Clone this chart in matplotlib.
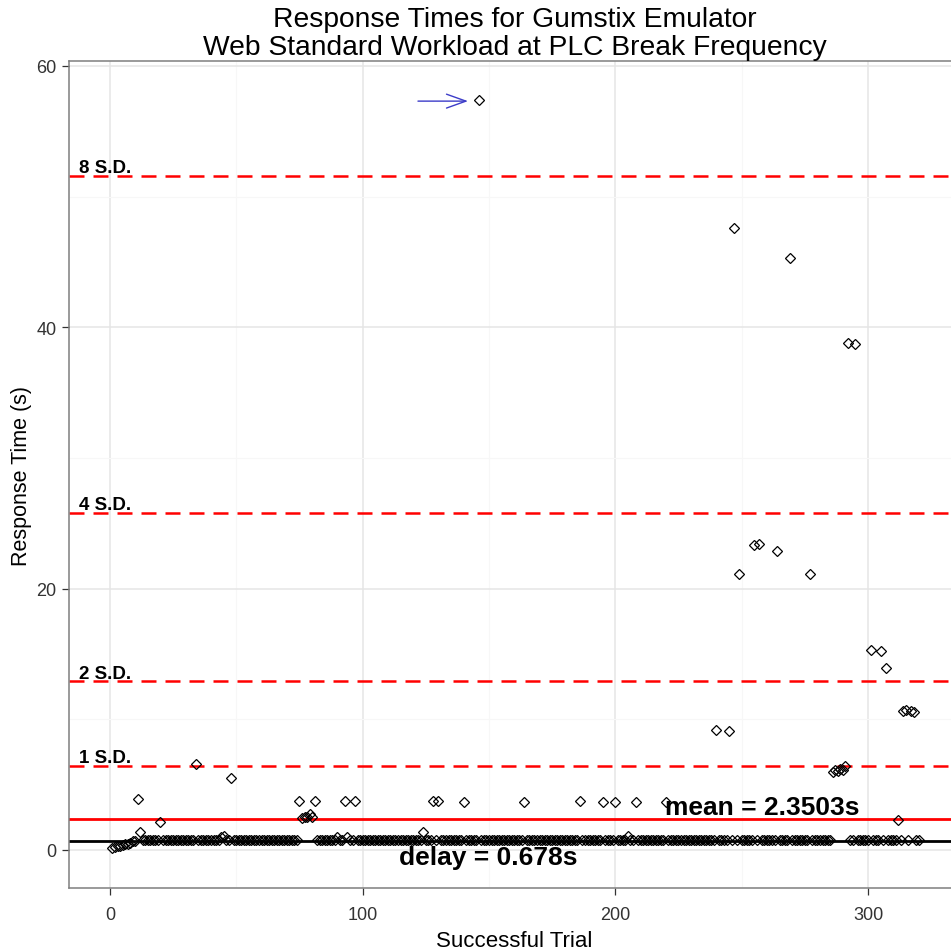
import matplotlib
matplotlib.use("Agg")
import matplotlib.pyplot as plt
from matplotlib.ticker import MultipleLocator

# ---------------- data ----------------
response_times = [
    # 1-20
    0.15, 0.20, 0.28, 0.33, 0.38, 0.42, 0.48, 0.55, 0.65, 0.72,
    3.90, 1.40, 0.78, 0.76, 0.77, 0.76, 0.78, 0.76, 0.77, 2.15,
    # 21-40
    0.76, 0.77, 0.76, 0.78, 0.76, 0.77, 0.76, 0.76, 0.78, 0.77,
    0.76, 0.77, 0.76, 6.60, 0.78, 0.76, 0.77, 0.76, 0.76, 0.78,
    # 41-60
    0.76, 0.77, 0.78, 1.00, 1.05, 0.77, 0.76, 5.50, 0.77, 0.76,
    0.78, 0.76, 0.77, 0.76, 0.76, 0.78, 0.77, 0.76, 0.77, 0.76,
    # 61-80
    0.78, 0.76, 0.77, 0.76, 0.76, 0.78, 0.77, 0.76, 0.77, 0.76,
    0.78, 0.76, 0.77, 0.76, 3.75, 2.45, 2.50, 2.55, 2.75, 2.50,
    # 81-100
    3.75, 0.77, 0.76, 0.78, 0.76, 0.77, 0.76, 0.76, 0.78, 1.00,
    0.77, 0.76, 3.75, 1.00, 0.76, 0.77, 3.75, 0.76, 0.78, 0.77,
    # 101-120
    0.76, 0.77, 0.78, 0.76, 0.77, 0.76, 0.76, 0.78, 0.77, 0.76,
    0.77, 0.76, 0.78, 0.76, 0.77, 0.76, 0.76, 0.78, 0.77, 0.76,
    # 121-140
    0.76, 0.77, 0.78, 1.35, 0.76, 0.77, 0.76, 3.75, 0.77, 3.75,
    0.76, 0.78, 0.77, 0.76, 0.76, 0.78, 0.77, 0.76, 0.77, 3.70,
    # 141-160
    0.76, 0.78, 0.77, 0.76, 0.76, 57.40, 0.77, 0.76, 0.78, 0.76,
    0.77, 0.76, 0.76, 0.78, 0.77, 0.76, 0.77, 0.76, 0.78, 0.76,
    # 161-180
    0.76, 0.77, 0.78, 3.70, 0.76, 0.77, 0.76, 0.76, 0.78, 0.77,
    0.76, 0.77, 0.76, 0.78, 0.76, 0.77, 0.76, 0.76, 0.78, 0.77,
    # 181-200
    0.76, 0.77, 0.78, 0.76, 0.77, 3.75, 0.76, 0.78, 0.77, 0.76,
    0.77, 0.76, 0.78, 0.76, 3.70, 0.76, 0.76, 0.78, 0.77, 3.70,
    # 201-220
    0.76, 0.77, 0.78, 0.76, 1.05, 0.77, 0.76, 3.70, 0.78, 0.76,
    0.77, 0.76, 0.78, 0.76, 0.77, 0.76, 0.76, 0.78, 0.77, 3.70,
    # 221-240
    0.76, 0.77, 0.78, 0.76, 0.77, 0.76, 0.76, 0.78, 0.77, 0.76,
    0.77, 0.76, 0.78, 0.76, 0.77, 0.76, 0.76, 0.78, 0.77, 9.20,
    # 241-260
    0.76, 0.77, 0.78, 0.76, 9.10, 0.77, 47.60, 0.78, 21.10, 0.76,
    0.77, 0.76, 0.78, 0.76, 23.30, 0.76, 23.40, 0.78, 0.77, 0.76,
    # 261-280
    0.76, 0.77, 0.78, 22.90, 0.77, 0.76, 0.76, 0.78, 45.30, 0.76,
    0.77, 0.76, 0.78, 0.76, 0.77, 0.76, 21.10, 0.78, 0.77, 0.76,
    # 281-300
    0.76, 0.77, 0.78, 0.76, 0.77, 6.00, 6.10, 6.05, 6.20, 6.10,
    6.45, 38.80, 0.78, 0.76, 38.70, 0.76, 0.76, 0.78, 0.77, 0.76,
    # 301-320
    15.30, 0.77, 0.78, 0.76, 15.20, 0.76, 13.90, 0.78, 0.77, 0.76,
    0.77, 2.30, 0.78, 10.60, 10.70, 0.76, 10.60, 10.55, 0.77, 0.76,
]
trials = list(range(1, len(response_times) + 1))

mean_value = 2.3503
delay_value = 0.678
sd_value = 6.45
sd_multiples = [1, 2, 4, 8]
sd_labels = ["1 S.D.", "2 S.D.", "4 S.D.", "8 S.D."]
arrow_tail_trial = 121.9
arrow_tip_trial = 141.7
arrow_level = 57.3

# ---------------- figure ----------------
plt.rcParams['font.family'] = ['Liberation Sans', 'DejaVu Sans']
fig = plt.figure(figsize=(9.51, 9.53), dpi=100)
W, H = 951, 953
left_px, right_px, top_px, bottom_px = 69, 960, 62, 889
ax = fig.add_axes([left_px / W, (H - bottom_px) / H,
                   (right_px - left_px) / W, (bottom_px - top_px) / H])

ax.set_xlim(-16.2, 336.4)
ax.set_ylim(-2.91, 60.37)

ax.xaxis.set_major_locator(MultipleLocator(100))
ax.xaxis.set_minor_locator(MultipleLocator(50))
ax.yaxis.set_major_locator(MultipleLocator(20))
ax.yaxis.set_minor_locator(MultipleLocator(10))
ax.grid(which='major', color='#E5E5E5', linewidth=1.1, zorder=0)
ax.grid(which='minor', color='#F7F7F7', linewidth=0.8, zorder=0)
ax.set_axisbelow(True)
ax.tick_params(which='minor', length=0)
ax.tick_params(which='major', length=5, width=0.9, color='#333333',
               labelsize=13, labelcolor='#333333')
ax.tick_params(axis='x', pad=8)
ax.tick_params(axis='y', pad=4)
for s in ax.spines.values():
    s.set_color('#7F7F7F')
    s.set_linewidth(1.1)

# reference lines
for m, lab in zip(sd_multiples, sd_labels):
    yv = m * sd_value
    ax.axhline(yv, color='#FF0000', linewidth=1.8, dashes=(6, 3.6), zorder=2)
    ax.text(-1.8, yv + 0.27, lab, ha='center', va='baseline', fontsize=13.5,
            fontweight='bold', color='black', zorder=5)
ax.axhline(mean_value, color='#FF0000', linewidth=2.0, zorder=2)
ax.axhline(delay_value, color='black', linewidth=2.0, zorder=2)

# points
ax.plot(trials, response_times, linestyle='none', marker='D', markersize=5.5,
        markerfacecolor='none', markeredgecolor='black', markeredgewidth=0.9,
        zorder=3)

# annotations
ax.text(258, 3.3, "mean = 2.3503s", ha='center', va='center', fontsize=19,
        fontweight='bold', color='black', zorder=6)
ax.text(149.6, -0.5, "delay = 0.678s", ha='center', va='center', fontsize=19,
        fontweight='bold', color='black', zorder=6)
ax.annotate("", xy=(arrow_tip_trial, arrow_level),
            xytext=(arrow_tail_trial, arrow_level),
            arrowprops=dict(arrowstyle='->,head_length=1.4,head_width=0.5',
                            color='#3C3CC8', lw=1.0, shrinkA=0, shrinkB=0),
            zorder=6)

ax.set_xlabel("Successful Trial", fontsize=16, labelpad=5)
ax.set_ylabel("Response Time (s)", fontsize=15.5, labelpad=3)
fig.text((left_px + right_px) / 2 / W, 1 - 34 / H,
         "Response Times for Gumstix Emulator\nWeb Standard Workload at PLC Break Frequency",
         ha='center', va='center', fontsize=20.3, linespacing=1.13)

fig.savefig("out.png", dpi=100)
